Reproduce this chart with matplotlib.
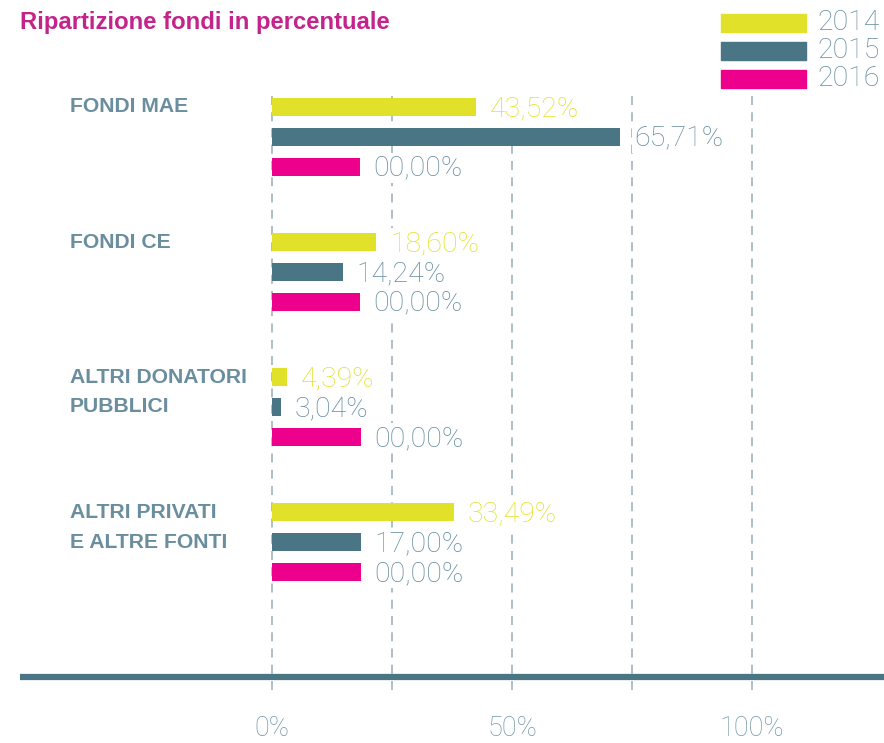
"""
Ripartizione fondi in percentuale - horizontal grouped bars (2014/2015/2016)
"""

import numpy as np
import matplotlib.pyplot as plt
from matplotlib.patches import Rectangle
from matplotlib.transforms import blended_transform_factory

# Data
categories = [["FONDI MAE"], ["FONDI CE"], ["ALTRI DONATORI", "PUBBLICI"],
              ["ALTRI PRIVATI", "E ALTRE FONTI"]]
years = ["2014", "2015", "2016"]
# bar lengths as drawn in the original (in % of the axis)
bars_2014 = [42.5, 21.7, 3.1, 37.9]
bars_2015 = [72.5, 14.8, 1.9, 18.5]
bars_2016 = [18.3, 18.3, 18.5, 18.5]
# printed values
labels_2014 = ["43,52%", "18,60%", "4,39%", "33,49%"]
labels_2015 = ["65,71%", "14,24%", "3,04%", "17,00%"]
labels_2016 = ["00,00%", "00,00%", "00,00%", "00,00%"]
tick_values = [0, 50, 100]
tick_labels = ["0%", "50%", "100%"]
grid_values = [25, 75]

YELLOW = "#e2e12a"
TEAL = "#4a7585"
PINK = "#ec008c"
TITLE_C = "#c4238b"
CAT_C = "#6a8e9e"
LABEL_C = "#638b9d"
TICK_C = "#7398a9"
GRID_C = "#a7bac4"

LIGHT = ["Roboto", "DejaVu Sans"]
BOLD = ["Liberation Sans", "DejaVu Sans"]

W, H = 884, 743
fig = plt.figure(figsize=(W / 100, H / 100), dpi=100)
ax = fig.add_axes([20 / W, 1 - 690 / H, (W - 20) / W, (690 - 92) / H])

colors = [YELLOW, TEAL, PINK]
series = [bars_2014, bars_2015, bars_2016]
labels = [labels_2014, labels_2015, labels_2016]
label_colors = [YELLOW, LABEL_C, LABEL_C]
offsets = [-0.222, 0.0, 0.222]
bar_h = 0.135

y_base = np.arange(len(categories))
for vals, labs, col, lcol, off in zip(series, labels, colors, label_colors, offsets):
    ypos = y_base + off
    ax.barh(ypos, vals, height=bar_h, color=col, zorder=3)
    for v, lab, y in zip(vals, labs, ypos):
        ax.annotate(lab, xy=(v, y), xytext=(10, -1), textcoords="offset points",
                    va="center", ha="left", fontsize=20.5, color=lcol,
                    family=LIGHT, fontweight="light", zorder=4,
                    bbox=dict(facecolor="white", edgecolor="none", pad=1))

# category labels (first line next to the 2014 bar, second next to 2015)
trans = blended_transform_factory(fig.transFigure, ax.transData)
for i, lines in enumerate(categories):
    for j, line in enumerate(lines):
        ax.text(70 / W, y_base[i] + offsets[j], line, transform=trans,
                ha="left", va="center", fontsize=15.2, fontweight="bold",
                color=CAT_C, family=BOLD)

# axes: 480 px per 100% with 0% at x=272
ax.set_xlim((20 - 272) / 4.8, (W - 272) / 4.8)
ax.set_ylim(4.096, -0.333)
ax.axhline(4.0, color=TEAL, linewidth=4.5, zorder=5)

ax.set_xticks(tick_values)
ax.set_xticklabels(tick_labels, fontsize=19.5, color=TICK_C, family=LIGHT,
                   fontweight="light")
ax.set_xticks(grid_values, minor=True)
ax.tick_params(axis="x", which="both", length=0, pad=18)
ax.set_yticks([])
ax.grid(axis="x", which="both", color=GRID_C, linestyle=(0, (5, 4)),
        linewidth=1.3, zorder=1)
ax.set_axisbelow(True)
for s in ax.spines.values():
    s.set_visible(False)

# title
fig.text(20 / W, 1 - 22 / H, "Ripartizione fondi in percentuale", ha="left",
         va="center", fontsize=17.2, fontweight="bold", color=TITLE_C,
         family=BOLD)

# legend drawn as figure patches
for k, (yr, col) in enumerate(zip(years, colors)):
    top = 14 + 28 * k
    fig.patches.append(Rectangle((721 / W, 1 - (top + 18) / H), 85 / W, 18 / H,
                                 transform=fig.transFigure, color=col))
    fig.text(817 / W, 1 - (top + 9) / H, yr, ha="left", va="center",
             fontsize=20.5, color=LABEL_C, family=LIGHT, fontweight="light")

plt.savefig("out.png", dpi=100)
